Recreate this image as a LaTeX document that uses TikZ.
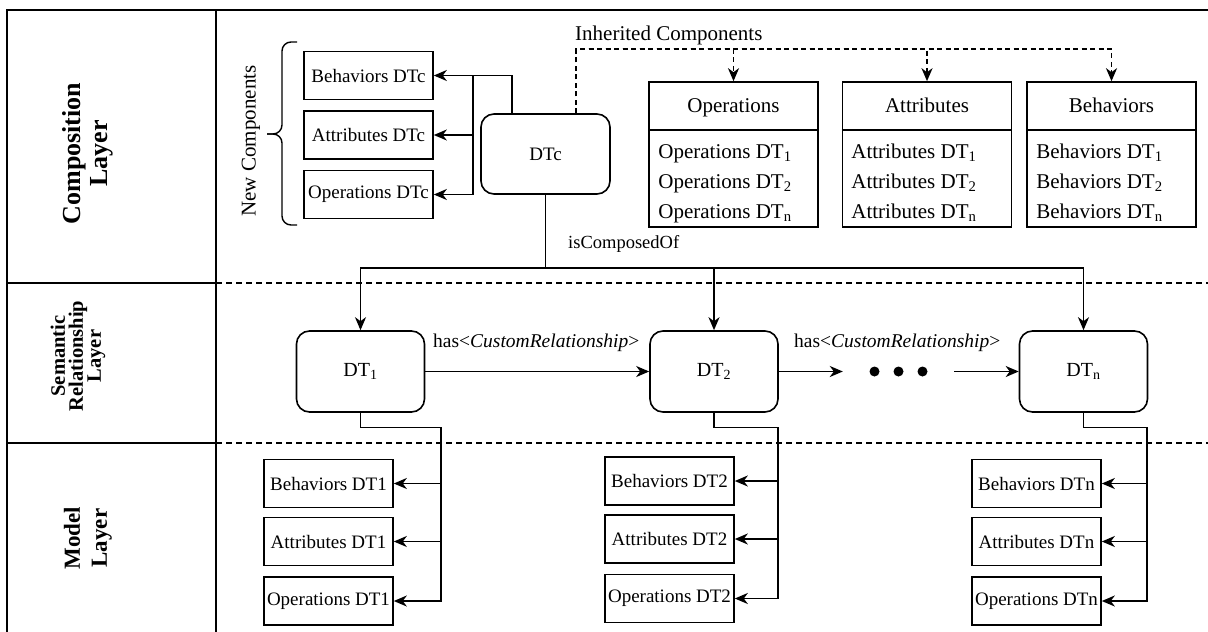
\documentclass[tikz,border=0pt]{standalone}
\usepackage{fontspec}
\setmainfont{Liberation Serif}
\usetikzlibrary{arrows.meta,calc}
\newcommand\fsz[2]{\fontsize{#1}{#2}\selectfont}

\begin{document}
\begin{tikzpicture}[x=1pt,y=-1pt,
  frame/.style={line width=2pt, line cap=rect},
  sep/.style={line width=1.5pt, dash pattern=on 6pt off 4pt},
  conn/.style={line width=1.8pt, -{Stealth[length=13pt,width=11pt,inset=4pt]}},
  dconn/.style={conn, dash pattern=on 5pt off 3.5pt},
  sbox/.style={draw, line width=1.6pt, minimum width=129pt, minimum height=48pt, inner sep=0pt, font=\fsz{19}{22}},
  dtbox/.style={draw, line width=1.6pt, rounded corners=13pt, minimum width=128pt, minimum height=81pt, inner sep=0pt, font=\fsz{20}{24}},
  tbl/.style={draw, line width=1.6pt, minimum width=169pt, minimum height=145pt, inner sep=0pt},
  ttext/.style={inner sep=0pt, font=\fsz{21}{25}},
  lbl/.style={inner sep=0pt, font=\fsz{19.5}{23}},
  lane/.style={rotate=90, align=center, inner sep=0pt}
]
\useasboundingbox (0,0) rectangle (1208,632);

% lanes
\draw[frame] (7,632) -- (7,9.5) -- (1208,9.5);
\draw[frame] (216,9.5) -- (216,632);
\draw[frame] (7,283) -- (216,283);
\draw[frame] (7,443) -- (216,443);
\draw[sep] (216,283) -- (1208,283);
\draw[sep] (216,443) -- (1208,443);

\node[lane, font=\bfseries\fsz{26}{27}] (lcomp) at (87.5,153.5) {Composition\\Layer};
\node[lane, font=\bfseries\fsz{20.5}{18}] (lsem) at (78,356) {Semantic\\Relationship\\Layer};
\node[lane, font=\bfseries\fsz{23}{27}] (lmod) at (88,538) {Model\\Layer};

% composition layer
\node[sbox] (bdtc) at (368.5,75.5) {Behaviors DTc};
\node[sbox] (adtc) at (368.5,135) {Attributes DTc};
\node[sbox] (odtc) at (368.5,194.5) {Operations DTc};
\node[dtbox, minimum width=129pt, minimum height=80pt, font=\fsz{19}{22}] (dtc) at (545.5,154) {DTc};

\draw[line width=1.4pt, rounded corners=9pt] (297,42) -- (282,42) -- (282,134) -- (267,134);
\draw[line width=1.4pt, rounded corners=9pt] (267,134) -- (282,134) -- (282,225) -- (297,225);
\node[lane, font=\fsz{21}{25}] (newc) at (251,141) {New Components};

\path (dtc.north west) ++(32,0) coordinate (dtcout);
\coordinate (nbranch) at (473,75.5);
\draw[conn] (dtcout) |- (bdtc.east);
\draw[conn] (dtcout) |- (nbranch) |- (adtc.east);
\draw[conn] (dtcout) |- (nbranch) |- (odtc.east);

% inherited component tables
\node[tbl] (ops) at (733.5,154.5) {};
\node[tbl] (att) at (927,154.5) {};
\node[tbl] (beh) at (1111.5,154.5) {};
\foreach \t in {ops,att,beh}
  \draw[line width=1.6pt] ($(\t.north west)+(0,48.5)$) -- ($(\t.north east)+(0,48.5)$);

\node[ttext, anchor=base] (opsh) at ($(ops.north)+(0,31.5)$) {Operations};
\node[ttext, anchor=base west] (ops1) at ($(ops.north west)+(10,77)$) {Operations DT\textsubscript{1}};
\node[ttext, anchor=base west] (ops2) at ($(ops.north west)+(10,107.5)$) {Operations DT\textsubscript{2}};
\node[ttext, anchor=base west] (opsn) at ($(ops.north west)+(10,137.5)$) {Operations DT\textsubscript{n}};

\node[ttext, anchor=base] (atth) at ($(att.north)+(0,31.5)$) {Attributes};
\node[ttext, anchor=base west] (att1) at ($(att.north west)+(9.5,77)$) {Attributes DT\textsubscript{1}};
\node[ttext, anchor=base west] (att2) at ($(att.north west)+(9.5,107.5)$) {Attributes DT\textsubscript{2}};
\node[ttext, anchor=base west] (attn) at ($(att.north west)+(9.5,137.5)$) {Attributes DT\textsubscript{n}};

\node[ttext, anchor=base] (behh) at ($(beh.north)+(0,31.5)$) {Behaviors};
\node[ttext, anchor=base west] (beh1) at ($(beh.north west)+(10,77)$) {Behaviors DT\textsubscript{1}};
\node[ttext, anchor=base west] (beh2) at ($(beh.north west)+(10,107.5)$) {Behaviors DT\textsubscript{2}};
\node[ttext, anchor=base west] (behn) at ($(beh.north west)+(10,137.5)$) {Behaviors DT\textsubscript{n}};

\path (dtc.north west) ++(96,0) coordinate (inhout);
\draw[dconn] (inhout) -- ++(0,-64) -| (ops.north);
\draw[dconn] (inhout) -- ++(0,-64) -| (att.north);
\draw[dconn] (inhout) -- ++(0,-64) -| (beh.north);
\node[lbl, font=\fsz{21}{25}, anchor=base west] (inhl) at (575,40.5) {Inherited Components};

% semantic relationship layer
\node[dtbox] (dt1) at (360.5,371.5) {DT\textsubscript{1}};
\node[dtbox] (dt2) at (714,371.5) {DT\textsubscript{2}};
\node[dtbox] (dtn) at (1083.5,371.5) {DT\textsubscript{n}};

\draw[conn] (dtc.south) -- ++(0,73) -| (dt1.north);
\draw[conn] (dtc.south) -- ++(0,73) -| (dt2.north);
\draw[conn] (dtc.south) -- ++(0,73) -| (dtn.north);
\node[lbl, font=\fsz{18.5}{22}, anchor=base west] (compl) at (568,248) {isComposedOf};

\node[minimum width=111pt, minimum height=12pt, inner sep=0pt] (dots) at (898.5,371.5) {};
\foreach \dx in {-24,0,24}
  \fill ($(dots.center)+(\dx,0)$) circle (5pt);

\draw[conn] (dt1) -- (dt2);
\draw[conn] (dt2) -- (dots);
\draw[conn] (dots) -- (dtn);
\node[lbl, anchor=base west] (has1) at (433,347) {has<\textit{CustomRelationship}>};
\node[lbl, anchor=base west] (has2) at (794,347) {has<\textit{CustomRelationship}>};

% model layer
\node[sbox] (mb1) at (328.5,483.5) {Behaviors DT1};
\node[sbox] (ma1) at (328.5,541.5) {Attributes DT1};
\node[sbox] (mo1) at (328.5,601) {Operations DT1};
\node[sbox] (mb2) at (669.5,481) {Behaviors DT2};
\node[sbox] (ma2) at (669.5,539) {Attributes DT2};
\node[sbox] (mo2) at (669.5,598.5) {Operations DT2};
\node[sbox] (mbn) at (1036.5,483.5) {Behaviors DTn};
\node[sbox] (man) at (1036.5,541.5) {Attributes DTn};
\node[sbox] (mon) at (1036.5,601) {Operations DTn};

\coordinate (k1) at (441,427.5);
\coordinate (k2) at (778,427.5);
\coordinate (kn) at (1147,427.5);
\foreach \d/\k/\i in {dt1/k1/1, dt2/k2/2, dtn/kn/n} {
  \draw[conn] (\d.south) |- (\k) |- (mb\i.east);
  \draw[conn] (\d.south) |- (\k) |- (ma\i.east);
  \draw[conn] (\d.south) |- (\k) |- (mo\i.east);
}
\end{tikzpicture}
\end{document}
